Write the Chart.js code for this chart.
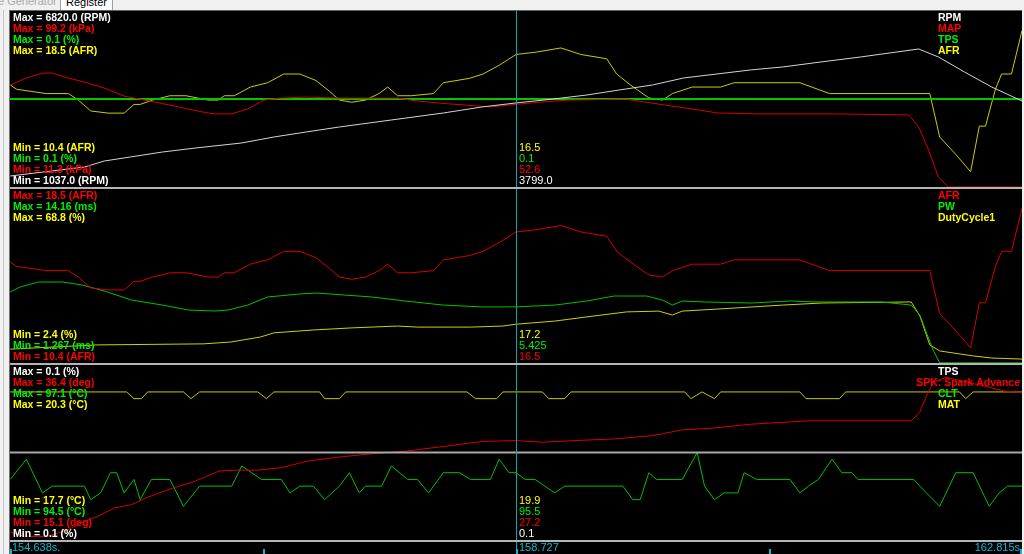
<!DOCTYPE html>
<html>
<head>
<meta charset="utf-8">
<title>Log viewer</title>
<script src="https://cdn.jsdelivr.net/npm/chart.js@4.4.1/dist/chart.umd.min.js"></script>
<style>
  html, body { margin: 0; padding: 0; width: 1024px; height: 554px; overflow: hidden; background: #f0f0f0; }
  #tabs { position: absolute; left: 0; top: 0; width: 1024px; height: 10px; overflow: hidden; font: 11px "Liberation Sans", Arial, sans-serif; }
  #tabs span { position: absolute; top: -6px; line-height: 14px; }
  #tabs .dim { left: -2px; color: #a8a8a8; }
  #tabs .tab { left: 60px; width: 46px; height: 15px; padding-left: 5px; border: 1px solid #a0a0a0; background: #fff; color: #000; }
  #edge { position: absolute; left: 3px; top: 10px; width: 1px; height: 544px; background: #c4c4c4; }
  #frame { position: absolute; left: 9px; top: 10px; width: 1013px; height: 544px; box-sizing: border-box; background: #000; border-left: 1px solid #707070; border-top: 1px solid #606060; }
  canvas { position: absolute; left: 10px; }
  .sep { position: absolute; left: 10px; width: 1012px; height: 2px; background: #b4b4b4; z-index: 2; }
</style>
</head>
<body>
<div id="tabs"><span class="dim">e Generator</span><span class="tab">Register</span></div>
<div id="edge"></div>
<div id="frame"></div>
<canvas id="c1" width="1012" height="176" style="top:11px"></canvas>
<canvas id="c2" width="1012" height="174" style="top:189px"></canvas>
<canvas id="c3" width="1012" height="189" style="top:365px"></canvas>
<div class="sep" style="top:187px"></div>
<div class="sep" style="top:363px"></div>
<div class="sep" style="top:540px"></div>
<script>
// time window (s)
const tStart = 154.638;
const tEnd = 162.815;
const tCursor = 158.727;

// RPM
const rpmT = [154.64,155.24,155.40,155.61,155.87,156.14,156.51,156.77,157.03,157.30,157.72,158.14,158.45,158.727,159.03,159.30,159.56,159.83,160.08,160.35,160.62,160.88,161.19,161.51,161.98,162.14,162.35,162.57,162.815];
const rpmV = [1398,1694,1891,2023,2187,2319,2483,2680,2844,3009,3239,3469,3666,3799,3929,4060,4224,4389,4619,4750,4882,4980,5145,5309,5572,5309,4816,4323,3862];
const rpmRange = [1037.0, 6820.0];

// MAP (kPa)
const mapT = [154.64,154.77,154.90,154.98,155.08,155.24,155.40,155.56,155.77,156.00,156.19,156.29,156.43,156.56,156.69,156.82,157.03,157.30,157.77,157.93,158.19,158.52,158.727,158.93,159.15,159.62,159.93,160.20,160.35,160.67,161.30,161.90,161.98,162.06,162.14,162.22,162.815];
const mapV = [62.2,65.7,68.2,68.2,66.2,63.7,60.7,56.7,54.2,51.3,48.8,47.8,47.8,50.3,54.7,55.7,56.2,55.7,55.7,54.2,52.8,51.3,52.6,53.7,54.7,55.2,52.2,49.8,48.3,47.8,47.8,47.3,41.3,29.8,16.3,11.3,11.3];
const mapRange = [11.3, 99.2];

// TPS (%)
const tpsT = [154.638, 162.815];
const tpsV = [0.1, 0.1];
const tpsRange = [0.1, 0.1];

// AFR
const afrT = [154.64,154.69,154.93,155.11,155.19,155.29,155.43,155.56,155.64,155.69,155.79,155.93,156.06,156.24,156.32,156.37,156.45,156.58,156.72,156.85,156.98,157.11,157.22,157.30,157.40,157.51,157.62,157.69,157.77,157.88,158.06,158.14,158.35,158.46,158.59,158.727,158.88,159.09,159.25,159.46,159.54,159.65,159.80,159.91,159.99,160.15,160.38,160.49,161.02,161.26,162.07,162.15,162.28,162.40,162.47,162.52,162.60,162.65,162.73,162.815];
const afrV = [15.1,14.9,14.7,14.7,14.4,13.9,13.8,13.8,14.2,14.2,14.4,14.6,14.6,14.4,14.4,14.6,14.6,15.0,15.2,15.6,15.6,15.3,14.8,14.4,14.3,14.4,14.7,15.0,14.6,14.6,14.7,15.2,15.4,15.6,16.0,16.5,16.6,16.8,16.5,16.3,15.6,15.1,14.5,14.4,14.7,15.0,15.0,15.2,15.2,14.7,14.7,12.7,11.9,11.1,13.2,13.2,14.9,15.6,15.6,17.6];
const afrRange = [10.4, 18.5];

// PW (ms)
const pwT = [154.64,154.72,154.87,155.06,155.22,155.40,155.62,155.87,156.08,156.29,156.40,156.56,156.72,156.98,157.12,157.33,157.56,157.83,158.14,158.46,158.727,159.04,159.30,159.52,159.78,159.91,159.99,160.07,160.25,160.63,160.94,161.15,161.68,161.92,161.99,162.05,162.10,162.15,162.815];
const pwV = [6.53,6.90,7.27,7.27,7.05,6.60,5.93,5.56,5.19,5.12,5.19,5.56,6.16,6.38,6.45,6.31,6.16,5.86,5.56,5.42,5.425,5.56,5.86,6.23,6.23,5.93,5.56,5.86,5.79,5.71,5.86,5.79,5.79,5.56,4.82,3.34,2.16,1.28,1.28];
const pwRange = [1.267, 14.16];

// DutyCycle1 (%)
const dcT = [154.64,155.34,156.20,156.42,156.66,156.77,157.09,157.40,157.77,157.93,158.36,158.62,158.727,159.04,159.30,159.62,159.88,159.99,160.07,160.36,160.88,161.20,161.92,161.99,162.07,162.15,162.42,162.57,162.815];
const dcV = [7.7,9.3,9.7,10.4,12.3,13.9,15.0,15.8,16.5,16.1,16.1,16.5,17.2,18.4,20.0,21.9,22.2,20.7,22.2,23.0,24.5,25.3,25.7,20.3,9.3,7.0,5.1,4.3,3.9];
const dcRange = [2.4, 68.8];

// SPK: Spark Advance (deg)
const spkT = [154.64,154.74,154.87,154.95,155.08,155.24,155.35,155.48,155.62,155.75,155.93,156.14,156.33,156.48,156.64,156.83,157.04,157.30,157.56,157.83,158.15,158.46,158.727,158.94,159.20,159.52,159.83,160.07,160.30,160.63,161.09,161.92,161.99,162.05,162.10,162.20,162.52,162.68,162.815];
const spkV = [16.1,15.6,15.5,15.6,16.2,17.3,18.0,19.0,19.4,20.3,21.3,22.3,23.5,23.6,23.6,23.9,24.7,25.2,25.6,25.9,26.5,27.1,27.2,27.0,27.2,27.4,27.8,28.5,28.7,29.2,29.6,29.6,30.7,32.9,34.3,34.9,33.8,33.2,33.1];
const spkRange = [15.1, 36.4];

// CLT (°C)
const cltT = [154.64,154.77,154.90,154.98,155.24,155.29,155.37,155.45,155.50,155.56,155.64,155.69,155.78,155.93,156.04,156.17,156.43,156.51,156.67,156.83,156.90,156.98,157.09,157.18,157.30,157.38,157.46,157.51,157.64,157.72,157.85,157.93,158.02,158.14,158.27,158.36,158.52,158.59,158.67,158.727,158.80,158.88,159.04,159.12,159.59,159.67,159.73,159.80,159.86,160.07,160.19,160.25,160.33,160.41,160.52,160.57,160.67,160.94,161.02,161.09,161.17,161.28,161.36,161.44,161.49,161.94,161.99,162.15,162.28,162.42,162.55,162.63,162.70,162.815];
const cltV = [95.4,95.7,95.2,95.3,95.3,95.1,95.2,95.5,95.5,95.2,95.4,95.1,95.4,95.4,95.0,95.3,95.3,95.6,95.4,95.4,95.2,95.3,95.3,95.1,95.3,95.5,95.2,95.3,95.3,95.6,95.4,95.4,95.2,95.5,95.5,95.4,95.4,95.7,95.5,95.5,95.4,95.4,95.2,95.3,95.3,95.1,95.1,95.5,95.4,95.4,95.8,95.3,95.1,95.2,95.2,95.5,95.4,95.4,95.2,95.3,95.4,95.7,95.5,95.5,95.4,95.4,95.3,95.0,95.5,95.5,95.0,95.2,95.3,95.3];
const cltRange = [94.5, 97.1];

// MAT (°C)
const matT = [154.64,155.58,155.64,155.70,155.75,156.04,156.10,156.17,156.64,156.71,156.77,157.14,157.18,157.30,157.35,158.33,158.40,158.57,158.62,158.727,158.94,158.99,159.12,159.17,160.09,160.14,160.23,160.33,160.38,161.02,161.07,161.34,161.39,162.31,162.36,162.42,162.815];
const matV = [19.9,19.9,19.8,19.8,19.9,19.9,19.8,19.9,19.9,19.8,19.9,19.9,19.8,19.8,19.9,19.9,19.8,19.8,19.9,19.9,19.9,19.8,19.8,19.9,19.9,19.8,19.9,19.8,19.9,19.9,19.8,19.8,19.9,19.9,19.8,19.9,19.9];
const matRange = [17.7, 20.3];


const boldFont = 'bold 10.5px "Liberation Sans", Arial, sans-serif';
const plainFont = '11px "Liberation Sans", Arial, sans-serif';
const cursorColor = '#00a8b4';
const footColor = '#10b8d0';

function fmtVal(s, v) {
    return s.prec ? v.toPrecision(s.prec) : v.toFixed(1);
}

// value of a series at time x (straight line between logged points)
function valueAt(t, v, x) {
    for (let k = 1; k < t.length; k++) {
        if (x <= t[k]) {
            const f = (x - t[k - 1]) / (t[k] - t[k - 1]);
            return v[k - 1] + f * (v[k] - v[k - 1]);
        }
    }
    return v[v.length - 1];
}

//
// text + cursor for one panel
//
function panelText(series, footer) {
    return {
        id: 'panelText',
        afterDatasetsDraw(chart) {
            const ctx = chart.ctx;
            const area = chart.chartArea;
            const xs = chart.scales.x;
            const cx = Math.round(xs.getPixelForValue(tCursor));
            ctx.save();
            ctx.fillStyle = cursorColor;
            ctx.fillRect(cx, 0, 1, chart.height);
            ctx.textBaseline = 'middle';
            ctx.textAlign = 'left';
            series.forEach((s, i) => {
                const yTop = area.top + 7 + 11 * i;
                const yBot = area.bottom - 6 - 11 * i;
                ctx.fillStyle = s.text;
                ctx.font = boldFont;
                ctx.fillText('Max = ' + fmtVal(s, s.range[1]) + ' (' + s.unit + ')', area.left + 3, yTop);
                ctx.fillText('Min = ' + fmtVal(s, s.range[0]) + ' (' + s.unit + ')', area.left + 3, yBot);
                const w = ctx.measureText(s.name).width;
                ctx.fillText(s.name, Math.min(area.left + 928, area.right - w - 2), yTop);
                ctx.font = plainFont;
                ctx.fillText(fmtVal(s, valueAt(s.t, s.v, tCursor)), cx + 3, yBot);
            });
            if (footer) {
                const fy = area.bottom + 8;
                ctx.fillStyle = footColor;
                ctx.font = plainFont;
                ctx.fillText(tStart.toFixed(3) + 's.', area.left + 2, fy);
                ctx.fillText(tCursor.toFixed(3), cx + 3, fy);
                ctx.textAlign = 'right';
                ctx.fillText(tEnd.toFixed(3) + 's', area.right - 2, fy);
                for (let k = 0; k <= 4; k++) {
                    const tx = Math.round(xs.getPixelForValue(tStart + k * (tEnd - tStart) / 4));
                    ctx.fillRect(Math.min(tx, area.right - 2), chart.height - 5, 2, 5);
                }
            }
            ctx.restore();
        }
    };
}

function makePanel(id, series, footer) {
    const scales = { x: { type: 'linear', min: tStart, max: tEnd, display: false } };
    series.forEach((s, i) => {
        let lo = s.range[0], hi = s.range[1];
        if (lo === hi) { lo -= 1; hi += 1; }  // flat channel sits in the middle
        scales['y' + i] = { type: 'linear', min: lo, max: hi, display: false };
    });
    const datasets = series.map((s, i) => ({
        label: s.name,
        data: s.t.map((t, k) => ({ x: t, y: s.v[k] })),
        yAxisID: 'y' + i,
        borderColor: s.line,
        borderWidth: s.width || 1,
        pointRadius: 0,
        tension: 0,
        fill: false
    }));
    return new Chart(document.getElementById(id).getContext('2d'), {
        type: 'line',
        data: { datasets: datasets },
        options: {
            responsive: false,
            animation: false,
            events: [],
            devicePixelRatio: 1,
            layout: { padding: { left: 0, right: 0, top: 0, bottom: footer ? 14 : 0 } },
            scales: scales,
            plugins: { legend: { display: false }, tooltip: { enabled: false } }
        },
        plugins: [panelText(series, footer)]
    });
}

const WHITE = '#ffffff', RED = '#ff0000', GREEN = '#00f000', YELLOW = '#ffff00';

makePanel('c1', [
    { name: 'RPM', unit: 'RPM', text: WHITE, line: '#d4d4d4', t: rpmT, v: rpmV, range: rpmRange },
    { name: 'MAP', unit: 'kPa', text: RED, line: '#d40000', t: mapT, v: mapV, range: mapRange },
    { name: 'TPS', unit: '%', text: GREEN, line: '#00c800', width: 2, t: tpsT, v: tpsV, range: tpsRange },
    { name: 'AFR', unit: 'AFR', text: YELLOW, line: '#cccc00', t: afrT, v: afrV, range: afrRange }
], false);

makePanel('c2', [
    { name: 'AFR', unit: 'AFR', text: RED, line: '#d40000', t: afrT, v: afrV, range: afrRange },
    { name: 'PW', unit: 'ms', text: GREEN, line: '#00c000', t: pwT, v: pwV, range: pwRange, prec: 4 },
    { name: 'DutyCycle1', unit: '%', text: YELLOW, line: '#d0d000', t: dcT, v: dcV, range: dcRange }
], false);

makePanel('c3', [
    { name: 'TPS', unit: '%', text: WHITE, line: '#a8a8a8', width: 2, t: tpsT, v: tpsV, range: tpsRange },
    { name: 'SPK: Spark Advance', unit: 'deg', text: RED, line: '#d40000', t: spkT, v: spkV, range: spkRange },
    { name: 'CLT', unit: '°C', text: GREEN, line: '#00c000', t: cltT, v: cltV, range: cltRange },
    { name: 'MAT', unit: '°C', text: YELLOW, line: '#c8c800', t: matT, v: matV, range: matRange }
], true);
</script>
</body>
</html>
